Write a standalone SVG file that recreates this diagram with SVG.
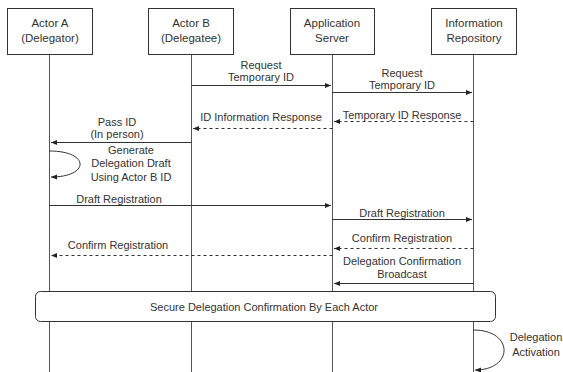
<svg xmlns="http://www.w3.org/2000/svg" width="563" height="372" viewBox="0 0 563 372">
<style>
text{font-family:"Liberation Sans",Arial,sans-serif;font-size:11px;fill:#333;text-anchor:middle}
.hdr{font-size:11.5px}
.box{fill:#fff;stroke:#333;stroke-width:1}
.life{stroke:#555;stroke-width:1;fill:none}
.msg{stroke:#333;stroke-width:1;fill:none;marker-end:url(#ah)}
.dash{stroke-dasharray:3,3}
</style>
<defs>
<marker id="ah" viewBox="0 0 8 8" refX="7" refY="4" markerWidth="7" markerHeight="7" markerUnits="userSpaceOnUse" orient="auto">
<path d="M0,1 L7,4 L0,7 Z" fill="#222"/>
</marker>
</defs>
<rect width="563" height="372" fill="#fff"/>
<g id="lifelines">
<line class="life" x1="49.5" y1="54" x2="49.5" y2="372"/>
<line class="life" x1="191.5" y1="54" x2="191.5" y2="372"/>
<line class="life" x1="332.5" y1="54" x2="332.5" y2="372"/>
<line class="life" x1="473.5" y1="54" x2="473.5" y2="372"/>
</g>
<g id="actorA"><rect class="box" x="7.5" y="8.5" width="85" height="46"/><text class="hdr" x="50" y="27">Actor A</text><text class="hdr" x="50" y="42">(Delegator)</text></g>
<g id="actorB"><rect class="box" x="148.5" y="8.5" width="85" height="46"/><text class="hdr" x="191" y="27">Actor B</text><text class="hdr" x="191" y="42">(Delegatee)</text></g>
<g id="appServer"><rect class="box" x="290.5" y="8.5" width="84" height="46"/><text class="hdr" x="332" y="27">Application</text><text class="hdr" x="332" y="42">Server</text></g>
<g id="infoRepo"><rect class="box" x="431.5" y="8.5" width="85" height="46"/><text class="hdr" x="474" y="27">Information</text><text class="hdr" x="474" y="42">Repository</text></g>
<g id="secureBox"><rect class="box" x="35.5" y="291.5" width="460" height="30" rx="5"/><text x="264" y="311">Secure Delegation Confirmation By Each Actor</text></g>
<g id="connectors">
<line class="msg" x1="191.5" y1="85.5" x2="331" y2="85.5"/>
<line class="msg" x1="332.5" y1="92.5" x2="472" y2="92.5"/>
<line class="msg dash" x1="473.5" y1="121.5" x2="334" y2="121.5"/>
<line class="msg dash" x1="332.5" y1="128.5" x2="193" y2="128.5"/>
<line class="msg" x1="191.5" y1="142.5" x2="51" y2="142.5"/>
<path class="msg" d="M49.5,151 C90,151 90,177 51,177"/>
<line class="msg" x1="49.5" y1="205.5" x2="331" y2="205.5"/>
<line class="msg" x1="332.5" y1="219.5" x2="472" y2="219.5"/>
<line class="msg dash" x1="473.5" y1="248.5" x2="334" y2="248.5"/>
<line class="msg dash" x1="332.5" y1="255.5" x2="51" y2="255.5"/>
<line class="msg" x1="473.5" y1="283.5" x2="334" y2="283.5"/>
<path class="msg" d="M473.5,330 C514,330 514,370 475,370"/>
</g>
<g id="labels">
<text x="261" y="69">Request</text><text x="261" y="81">Temporary ID</text>
<text x="402" y="77">Request</text><text x="402" y="89">Temporary ID</text>
<text x="402" y="119">Temporary ID Response</text>
<text x="261" y="121">ID Information Response</text>
<text x="117" y="126">Pass ID</text><text x="117" y="138">(In person)</text>
<text x="131" y="154">Generate</text><text x="131" y="167">Delegation Draft</text><text x="131" y="181">Using Actor B ID</text>
<text x="119" y="203">Draft Registration</text>
<text x="402" y="217">Draft Registration</text>
<text x="402" y="242">Confirm Registration</text>
<text x="118" y="249">Confirm Registration</text>
<text x="402" y="265">Delegation Confirmation</text><text x="402" y="278">Broadcast</text>
<text x="536" y="341">Delegation</text><text x="536" y="356">Activation</text>
</g>
</svg>
